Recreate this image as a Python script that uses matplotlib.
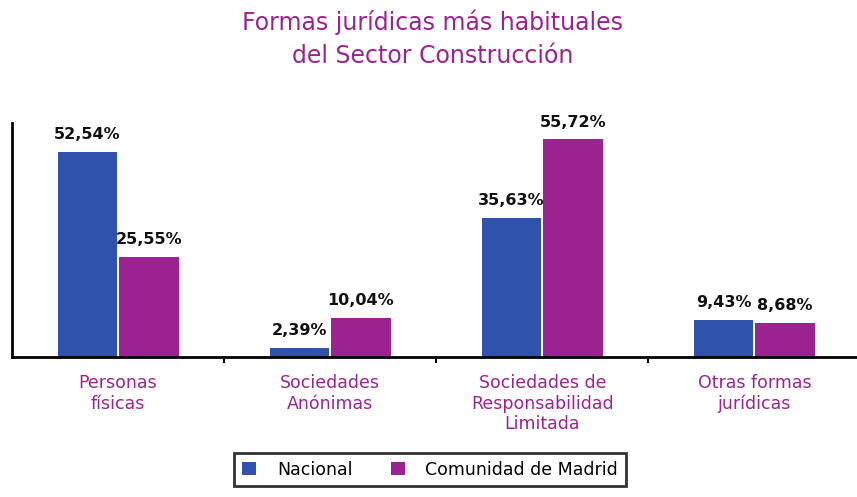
import numpy as np
import matplotlib.pyplot as plt

categorias = ["Personas\nfísicas", "Sociedades\nAnónimas",
              "Sociedades de\nResponsabilidad\nLimitada", "Otras formas\njurídicas"]
nacional = [52.54, 2.39, 35.63, 9.43]
madrid = [25.55, 10.04, 55.72, 8.68]
series = ["Nacional", "Comunidad de Madrid"]

azul = "#2f52ad"
magenta = "#9c2291"

fig = plt.figure(figsize=(8.57, 4.97), dpi=100)
ax = fig.add_axes([0.014, 0.282, 0.99, 0.471])

x = np.arange(len(categorias))
w = 0.28
b1 = ax.bar(x - w/2 - 0.005, nacional, w, color=azul, label=series[0])
b2 = ax.bar(x + w/2 + 0.005, madrid, w, color=magenta, label=series[1])

def fmt(v):
    return ("%.2f%%" % v).replace(".", ",")

for bars, vals in ((b1, nacional), (b2, madrid)):
    for r, v in zip(bars, vals):
        ax.text(r.get_x() + r.get_width()/2, v + 2.5, fmt(v), ha="center", va="bottom",
                fontsize=11.5, fontweight="bold", color="#111111")

ax.set_xlim(-0.5, 3.5)
ax.set_ylim(0, 60)
ax.set_yticks([])
ax.set_xticks(x + 0.5)
ax.set_xticklabels([])
ax.tick_params(axis="x", length=4, width=1.5, direction="out")
for s in ["top", "right"]:
    ax.spines[s].set_visible(False)
ax.spines["left"].set_linewidth(2)
ax.spines["bottom"].set_linewidth(2)

for xi, c in zip(x, categorias):
    ax.text(xi, -4.5, c, ha="center", va="top", fontsize=12.5, color=magenta,
            linespacing=1.15)

fig.text(0.505, 0.955, "Formas jurídicas más habituales", ha="center", va="center",
         fontsize=17, color=magenta)
fig.text(0.505, 0.888, "del Sector Construcción", ha="center", va="center",
         fontsize=17, color=magenta)

leg = fig.legend(loc="center", bbox_to_anchor=(0.502, 0.055), ncol=2,
                 frameon=True, fancybox=False, edgecolor="black", fontsize=12.5,
                 handlelength=0.8, handleheight=0.8, borderpad=0.45,
                 handletextpad=1.2, columnspacing=2.2)
leg.get_frame().set_linewidth(2)

fig.savefig("out.png", dpi=100)
